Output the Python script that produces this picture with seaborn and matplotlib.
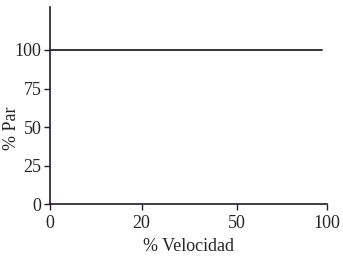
import matplotlib
matplotlib.use("Agg")
import matplotlib.pyplot as plt
import seaborn as sns
import pandas as pd

# torque stays constant over the speed range
velocidad = [0, 98]
par = [100, 100]
x_ticks = [0, 33, 67.5, 100]
x_labels = ["0", "20", "50", "100"]
y_ticks = [0, 25, 50, 75, 100]

sns.set_style("ticks")
plt.rcParams['font.family'] = ['Liberation Serif', 'DejaVu Serif']

df = pd.DataFrame({"vel": velocidad, "par": par})

fig = plt.figure(figsize=(3.43, 2.63), dpi=100)
ax = fig.add_axes([0.146, 0.224, 0.808, 0.75])
sns.lineplot(data=df, x="vel", y="par", ax=ax, color="#333333", linewidth=1.4)

ax.set_xlim(0, 100)
ax.set_ylim(0, 128)
ax.set_xticks(x_ticks)
ax.set_xticklabels(x_labels)
ax.set_yticks(y_ticks)
ax.tick_params(labelsize=13, length=4, width=1, color="#221a28", pad=2)
ax.tick_params(axis="x", pad=4)
for s in ["left", "bottom"]:
    ax.spines[s].set_color("#221a28")
    ax.spines[s].set_linewidth(1.2)
sns.despine(ax=ax)

ax.set_xlabel("% Velocidad", fontsize=13, labelpad=4)
ax.set_ylabel("% Par", fontsize=13)
ax.yaxis.set_label_coords(-0.108, 0.386)

fig.savefig("out.png", dpi=100)
